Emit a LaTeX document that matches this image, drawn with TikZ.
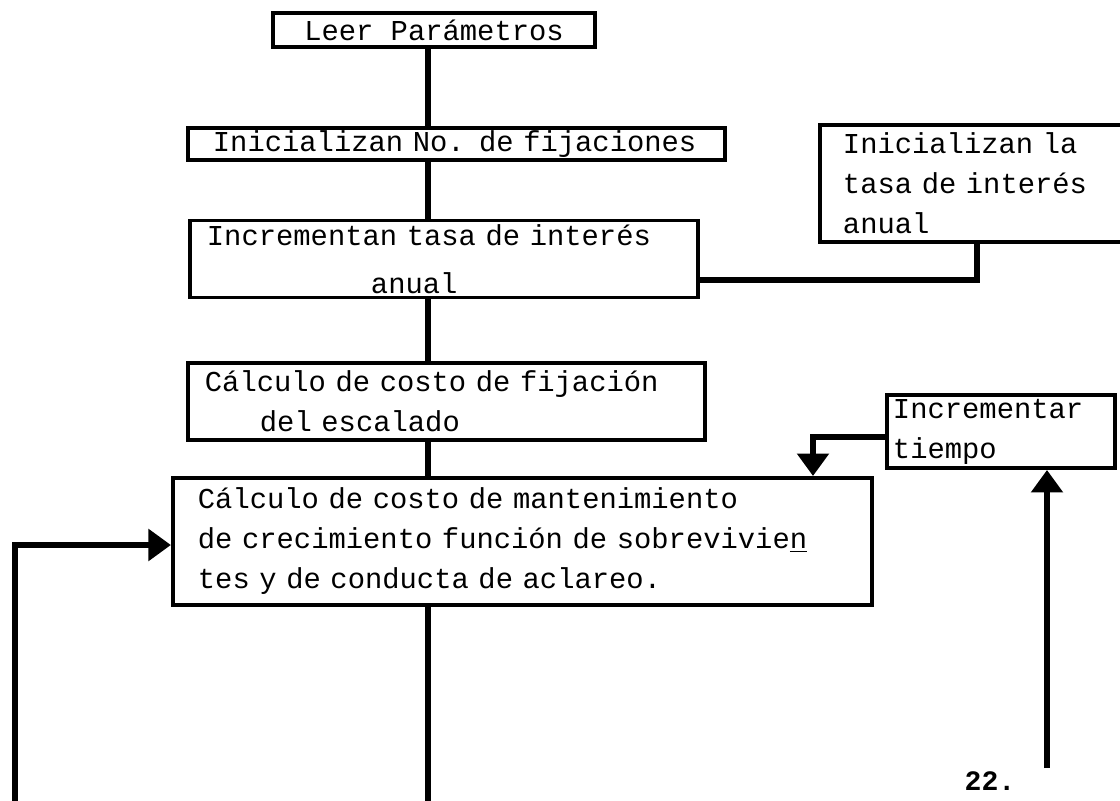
\documentclass[tikz,border=0pt]{standalone}
\usepackage{fontspec}
\newfontfamily\maquina{Liberation Mono}
\usetikzlibrary{arrows.meta}

\tikzset{
  caja/.style={draw, line width=2.8pt, rectangle, inner ysep=0pt, align=left,
    font=\maquina\fontsize{20.5}{28.45}\selectfont},
  linea/.style={line width=4pt},
  flecha/.style={linea, -{Triangle[width=22pt,length=16pt]}},
}

\begin{document}
\begin{tikzpicture}[x=0.025cm, y=-0.025cm]
  \useasboundingbox (0,0) rectangle (1120,801);
  \clip (0,0) rectangle (1120,801);
  % Eje de las lineas verticales
  \coordinate (eje) at (428,0);
  % Cajas
  \node[caja, align=center, inner sep=0pt, minimum width=8.05cm, minimum height=0.85cm] (leer) at (434,30) {Leer Parámetros};
  \node[caja, inner xsep=0.625cm, text width=12.175cm, minimum height=0.8cm] (fijaciones) at (456.5,144) {\mbox{Inicializan No. de fijaciones}};
  \node[caja, inner xsep=0.425cm, text width=11.85cm, minimum height=1.925cm] (incremento) at (444,259) {\mbox{Incrementan tasa de interés}\\[0.2cm]\mbox{\hspace*{4.1cm}anual}};
  \node[caja, inner xsep=0.575cm, text width=6.725cm, minimum height=2.925cm] (tasa) at (977.5,183.5) {\mbox{Inicializan la}\\\mbox{tasa de interés}\\\mbox{anual}};
  \node[caja, inner xsep=0.425cm, text width=12.075cm, minimum height=1.925cm] (costo) at (446.5,401.5) {\mbox{Cálculo de costo de fijación}\\\mbox{\hspace*{1.375cm}del escalado}};
  \node[caja, inner xsep=0.625cm, text width=16.225cm, minimum height=3.175cm] (mantenimiento) at (522.5,541.5) {\mbox{Cálculo de costo de mantenimiento}\\\mbox{de crecimiento función de sobrevivie\underline{n}}\\\mbox{tes y de conducta de aclareo.}};
  \node[caja, inner xsep=0.15cm, text width=5.4cm, minimum height=1.825cm] (tiempo) at (1001,431.5) {\mbox{Incrementar}\\\mbox{tiempo}};
  % Numero de pagina
  \node[inner sep=0pt, font=\maquina\bfseries\fontsize{20}{22}\selectfont] (pagina) at (990,781) {22.};
  % Lineas verticales
  \draw[linea] (leer.south -| eje) -- (fijaciones.north -| eje);
  \draw[linea] (fijaciones.south -| eje) -- (incremento.north -| eje);
  \draw[linea] (incremento.south -| eje) -- (costo.north -| eje);
  \draw[linea] (costo.south -| eje) -- (mantenimiento.north -| eje);
  \coordinate (salida) at (428,801);
  \draw[linea] (mantenimiento.south -| eje) -- (salida);
  % Tasa inicial
  \coordinate (codo) at (977,280);
  \draw[linea] (incremento.east |- codo) -- (codo) -- (codo |- tasa.south);
  % Incrementar tiempo
  \coordinate (giro) at (813,437);
  \draw[flecha] (giro -| tiempo.west) -- (giro) -- (giro |- mantenimiento.north);
  \coordinate (subida) at (1047,768);
  \draw[flecha] (subida) -- (subida |- tiempo.south);
  % Retorno
  \coordinate (retorno) at (15,801);
  \coordinate (nivel) at (15,545);
  \draw[flecha] (retorno) -- (nivel) -- (nivel -| mantenimiento.west);
\end{tikzpicture}
\end{document}
